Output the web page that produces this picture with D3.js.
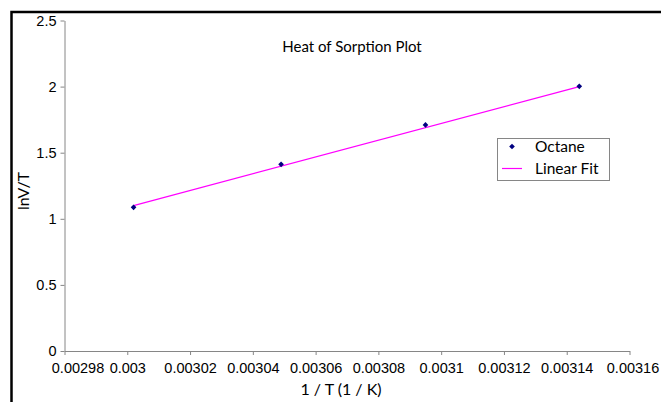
<!DOCTYPE html>
<html>
<head>
<meta charset="utf-8">
<script src="https://cdn.jsdelivr.net/npm/d3@7"></script>
<style>
  html, body { margin: 0; background: #fff; overflow: hidden; }
  svg { display: block; font-family: Lato, "Open Sans", sans-serif; }
  .tick text { font-size: 14.5px; fill: #000; }
</style>
</head>
<body>
<svg id="chart" width="661" height="402"></svg>
<script>
// data
const invT = [0.003002, 0.003049, 0.003095, 0.003144];
const lnVT = [1.087, 1.412, 1.71, 2.002];
const fitX = [0.003002, 0.003144];
const fitY = [1.10, 2.00];
const xTicks = [0.00298, 0.003, 0.00302, 0.00304, 0.00306, 0.00308, 0.0031, 0.00312, 0.00314, 0.00316];
const yTicks = [0, 0.5, 1, 1.5, 2, 2.5];

let svg = d3.select("#chart");

// outer frame: only its top and left edges fall inside the picture
svg.append("path")
    .attr("d", "M11.5,402V12H661")
    .attr("fill", "none").attr("stroke", "#000").attr("stroke-width", 2.5);

let x = d3.scaleLinear().domain([0.00298, 0.00316]).range([64.5, 629.5]);
let y = d3.scaleLinear().domain([0, 2.5]).range([351, 20.5]);

let xAxis = svg.append("g")
    .attr("transform", "translate(0,351)")
    .call(d3.axisBottom(x).tickValues(xTicks).tickSize(4).tickSizeOuter(0)
        .tickFormat(d => String(+d.toFixed(5))));
xAxis.select(".domain").attr("stroke", "#868686");
xAxis.selectAll(".tick line").attr("stroke", "#868686");
xAxis.selectAll(".tick text").attr("dy", "1em")
    .attr("x", (d, i) => i == 0 ? 13 : (i == xTicks.length - 1 ? 3 : 0));

let yAxis = svg.append("g")
    .attr("transform", "translate(64.5,0)")
    .call(d3.axisLeft(y).tickValues(yTicks).tickSize(4).tickSizeOuter(0)
        .tickFormat(d => String(d)));
yAxis.select(".domain").attr("stroke", "#868686");
yAxis.selectAll(".tick line").attr("stroke", "#868686");
yAxis.selectAll(".tick text").attr("x", -8);

// titles
svg.append("text").attr("x", 352).attr("y", 52)
    .attr("text-anchor", "middle").attr("font-size", 15)
    .text("Heat of Sorption Plot");
svg.append("text").attr("x", 341).attr("y", 395)
    .attr("text-anchor", "middle").attr("font-size", 16)
    .text("1 / T (1 / K)");
svg.append("text")
    .attr("transform", "translate(29,191) rotate(-90)")
    .attr("text-anchor", "middle").attr("font-size", 16)
    .text("lnV/T");

// linear fit
svg.append("line")
    .attr("x1", x(fitX[0])).attr("y1", y(fitY[0]))
    .attr("x2", x(fitX[1])).attr("y2", y(fitY[1]))
    .attr("stroke", "#ff00ff").attr("stroke-width", 1.2);

// points: small square diamonds
let marker = d3.symbol().type(d3.symbolSquare).size(16);
svg.selectAll(".pt")
    .data(invT)
    .enter()
    .append("path")
    .attr("class", "pt")
    .attr("d", marker)
    .attr("transform", (d, i) => `translate(${x(d)},${y(lnVT[i])}) rotate(45)`)
    .attr("fill", "#000080");

// legend
let legend = svg.append("g");
legend.append("rect")
    .attr("x", 497.5).attr("y", 138.5).attr("width", 112).attr("height", 42)
    .attr("fill", "#fff").attr("stroke", "#868686");
legend.append("path").attr("d", marker)
    .attr("transform", "translate(512,146.5) rotate(45)").attr("fill", "#000080");
legend.append("text").attr("x", 535).attr("y", 152).attr("font-size", 15.5).text("Octane");
legend.append("line")
    .attr("x1", 502).attr("x2", 522).attr("y1", 168.5).attr("y2", 168.5)
    .attr("stroke", "#ff00ff").attr("stroke-width", 1.2);
legend.append("text").attr("x", 535).attr("y", 173.5).attr("font-size", 15.5).text("Linear Fit");
</script>
</body>
</html>
